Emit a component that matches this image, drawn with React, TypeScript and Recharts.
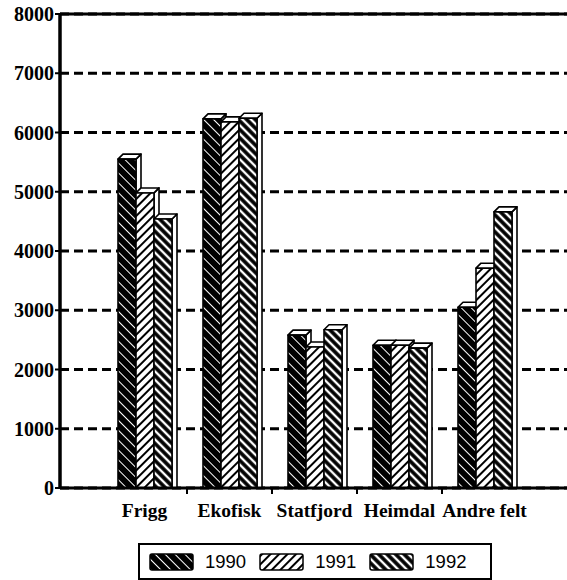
import { BarChart, Bar, XAxis, YAxis, CartesianGrid, ReferenceLine } from "recharts";

const fields = ["Frigg", "Ekofisk", "Statfjord", "Heimdal", "Andre felt"];
const v1990 = [5550, 6230, 2580, 2410, 3050];
const v1991 = [4980, 6180, 2380, 2410, 3710];
const v1992 = [4540, 6240, 2670, 2360, 4660];
const years = ["1990", "1991", "1992"];
const yTicks = [0, 1000, 2000, 3000, 4000, 5000, 6000, 7000, 8000];

const data = fields.map((name, i) => ({
  name,
  y1990: v1990[i],
  y1991: v1991[i],
  y1992: v1992[i],
}));

const SERIF = '"Liberation Serif", "Times New Roman", serif';
const SANS = '"Liberation Sans", Arial, sans-serif';

// hatch fills shared by bars and legend
const Patterns = () => (
  <svg style={{ position: "absolute", width: 0, height: 0 }}>
    <defs>
      <pattern id="p1990" width={7} height={7} patternUnits="userSpaceOnUse" patternTransform="rotate(-45)">
        <rect width={7} height={7} fill="#000" />
        <line x1={3.5} y1={0} x2={3.5} y2={7} stroke="#fff" strokeWidth={1} />
      </pattern>
      <pattern id="p1991" width={6} height={6} patternUnits="userSpaceOnUse" patternTransform="rotate(45)">
        <rect width={6} height={6} fill="#fff" />
        <line x1={3} y1={0} x2={3} y2={6} stroke="#000" strokeWidth={2} />
      </pattern>
      <pattern id="p1992" width={6} height={6} patternUnits="userSpaceOnUse" patternTransform="rotate(-45)">
        <rect width={6} height={6} fill="#000" />
        <line x1={3} y1={0} x2={3} y2={6} stroke="#fff" strokeWidth={2.4} />
      </pattern>
    </defs>
  </svg>
);

const DEPTH = 5;

const Bar3D = (props: any) => {
  const { x, y, width, height, fill } = props;
  if (!height) return null;
  const r = x + width;
  const b = y + height;
  return (
    <g stroke="#000" strokeWidth={1.6} strokeLinejoin="round">
      <path d={`M${r},${y} L${r + DEPTH},${y - DEPTH} L${r + DEPTH},${b} L${r},${b} Z`} fill="#fff" />
      <path d={`M${x},${y} L${x + DEPTH},${y - DEPTH} L${r + DEPTH},${y - DEPTH} L${r},${y} Z`} fill="#fff" />
      <rect x={x} y={y} width={width} height={height} fill={fill} />
    </g>
  );
};

const FieldTick = (props: any) => {
  const { x, y, payload, index } = props;
  const off = payload.offset ?? 0;
  return (
    <g>
      {index > 0 && <line x1={x - off} x2={x - off} y1={y} y2={y + 6} stroke="#000" strokeWidth={2} />}
      <text x={x} y={y + 29} textAnchor="middle" fontFamily={SERIF} fontWeight="bold" fontSize={19.5} fill="#000">
        {payload.value}
      </text>
    </g>
  );
};

const Legend3 = () => (
  <div
    style={{
      position: "absolute",
      left: 138,
      top: 543,
      width: 341,
      height: 33,
      border: "2px solid #000",
      display: "flex",
      alignItems: "center",
      paddingLeft: 9,
      boxSizing: "content-box",
      fontFamily: SANS,
      fontSize: 18.5,
    }}
  >
    {years.map((yr) => (
      <div key={yr} style={{ display: "flex", alignItems: "center", marginRight: 13 }}>
        <svg width={45} height={18}>
          <rect x={1} y={1} width={43} height={16} rx={2} fill={`url(#p${yr})`} stroke="#000" strokeWidth={1.5} />
        </svg>
        <span style={{ marginLeft: 11 }}>{yr}</span>
      </div>
    ))}
  </div>
);

export default function App() {
  return (
    <div style={{ position: "absolute", left: 0, top: 0, width: 567, height: 580, background: "#fff", overflow: "hidden" }}>
      <Patterns />
      <BarChart
        width={567}
        height={580}
        data={data}
        margin={{ top: 14, right: 0, bottom: 52, left: 0 }}
        barSize={18}
        barGap={0}
      >
        <CartesianGrid vertical={false} stroke="#000" strokeWidth={3} strokeDasharray="9 5" />
        <XAxis
          dataKey="name"
          height={40}
          padding={{ left: 42, right: 40 }}
          axisLine={{ stroke: "#000", strokeWidth: 3 }}
          tickLine={false}
          tickSize={0}
          tickMargin={0}
          tick={<FieldTick />}
          interval={0}
        />
        <YAxis
          width={60}
          domain={[0, 8000]}
          ticks={yTicks}
          interval={0}
          axisLine={{ stroke: "#000", strokeWidth: 3.5 }}
          tickLine={{ stroke: "#000", strokeWidth: 2 }}
          tickSize={5}
          tickMargin={1}
          tick={{ fill: "#000", fontFamily: SERIF, fontWeight: "bold", fontSize: 20 }}
        />
        <ReferenceLine y={8000} stroke="#000" strokeWidth={3} />
        <Bar dataKey="y1990" fill="url(#p1990)" shape={<Bar3D />} isAnimationActive={false} />
        <Bar dataKey="y1991" fill="url(#p1991)" shape={<Bar3D />} isAnimationActive={false} />
        <Bar dataKey="y1992" fill="url(#p1992)" shape={<Bar3D />} isAnimationActive={false} />
      </BarChart>
      <Legend3 />
    </div>
  );
}
